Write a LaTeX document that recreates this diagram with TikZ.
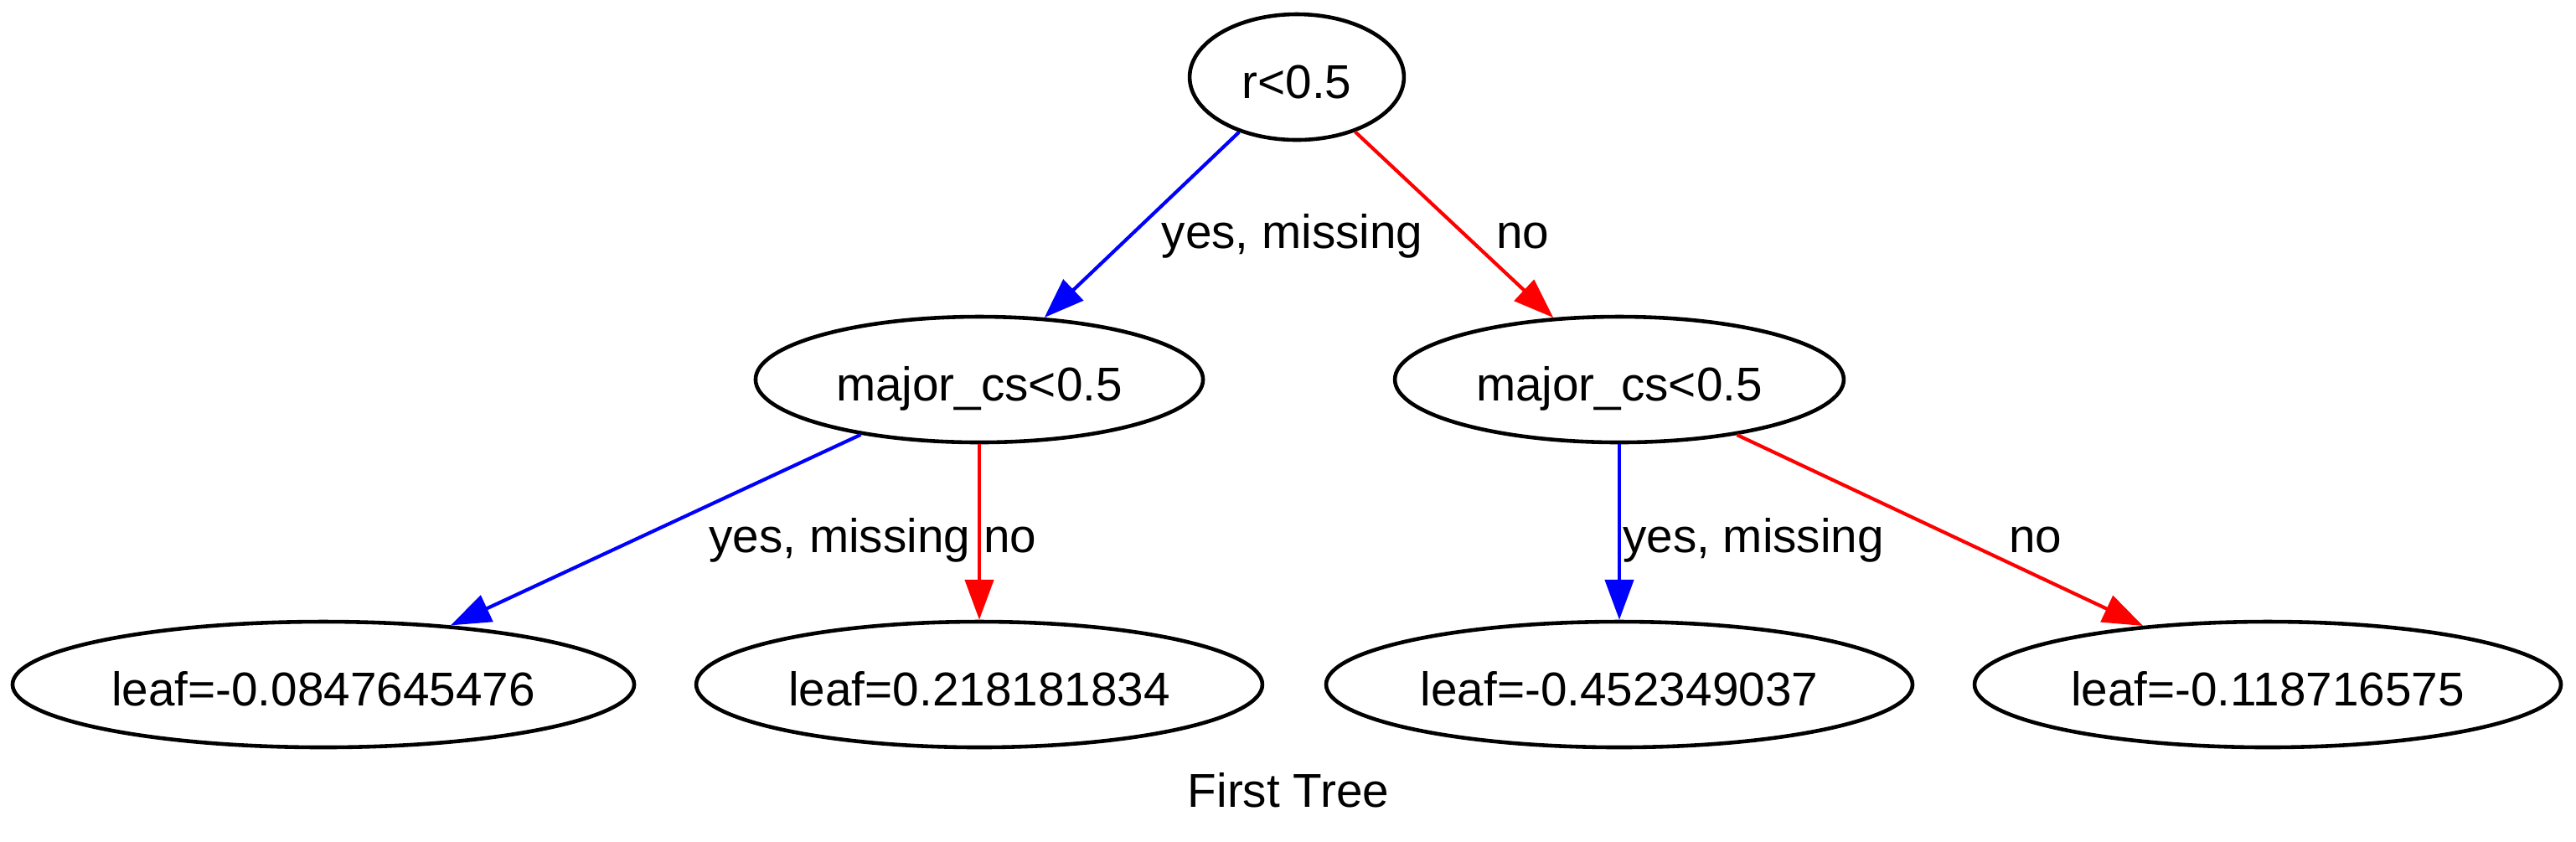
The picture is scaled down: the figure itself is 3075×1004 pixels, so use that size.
\documentclass[tikz,border=0pt]{standalone}
\usepackage{fontspec}
\setmainfont{Liberation Sans}
\usepackage{tikz}
\usetikzlibrary{arrows.meta}
\usetikzlibrary{shapes.geometric}

\begin{document}
\begin{tikzpicture}[x=0.24pt, y=-0.24pt,
        split/.style={draw, ellipse, line width=1.1pt, inner sep=0pt,
            minimum height=36pt, text height=12pt, text depth=0pt,
            font=\fontsize{13.6}{16}\selectfont},
        yesedge/.style={draw=blue, line width=1pt, -{Triangle[length=11.5pt, width=8.2pt]}},
        noedge/.style={draw=red, line width=1pt, -{Triangle[length=11.5pt, width=8.2pt]}},
        edgelabel/.style={anchor=base west, inner sep=0pt, font=\fontsize{13.6}{16}\selectfont}]
        % Fix the page size
        \useasboundingbox (0,0) rectangle (3075,1004);

        % Draw the split nodes
        \node[split, minimum width=61.4pt] (root) at (1548,92) {r<0.5};
        \node[split, minimum width=128.2pt] (csleft) at (1169,453) {major\_cs<0.5};
        \node[split, minimum width=128.6pt] (csright) at (1933,453) {major\_cs<0.5};

        % Draw the leaves
        \node[split, minimum width=178.1pt] (leafa) at (386,817) {leaf=-0.0847645476};
        \node[split, minimum width=162.2pt] (leafb) at (1169,817) {leaf=0.218181834};
        \node[split, minimum width=168pt] (leafc) at (1933,817) {leaf=-0.452349037};
        \node[split, minimum width=168pt] (leafd) at (2707,817) {leaf=-0.118716575};

        % Draw the branches from the root
        \draw[yesedge] (root) -- (csleft) node[edgelabel, pos=0.627, xshift=12.3pt] {yes, missing};
        \draw[noedge] (root) -- (csright) node[edgelabel, pos=0.627, xshift=4.4pt] {no};

        % Draw the branches to the leaves
        \draw[yesedge] (csleft) -- (leafa) node[edgelabel, pos=0.619, xshift=28.8pt] {yes, missing};
        \draw[noedge] (csleft) -- (leafb) node[edgelabel, pos=0.617, xshift=0.7pt] {no};
        \draw[yesedge] (csright) -- (leafc) node[edgelabel, pos=0.617, xshift=0.5pt] {yes, missing};
        \draw[noedge] (csright) -- (leafd) node[edgelabel, pos=0.616, xshift=5.8pt] {no};

        % Label the tree
        \node[edgelabel, anchor=base] (caption) at (1538,963) {First Tree};
    \end{tikzpicture}
\end{document}
